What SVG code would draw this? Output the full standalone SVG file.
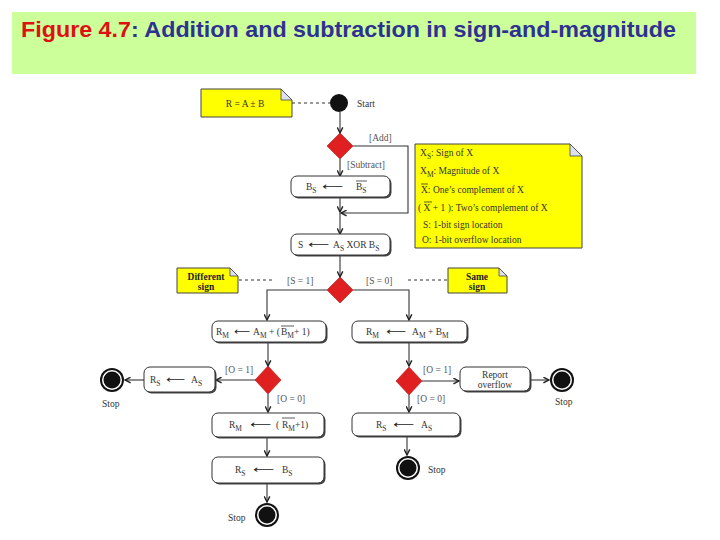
<svg xmlns="http://www.w3.org/2000/svg" width="720" height="540" viewBox="0 0 720 540">
<style>
.t{font-family:"Liberation Serif","Times New Roman",serif;font-size:9.5px;fill:#333}
.g{font-family:"Liberation Serif","Times New Roman",serif;font-size:9.5px;fill:#555}
.nb{font-family:"Liberation Serif","Times New Roman",serif;font-size:9.5px;fill:#222;font-weight:bold}
.ar{font-family:"DejaVu Sans",sans-serif;font-size:10px;fill:#222}
.sub{font-size:7.5px}
.box{fill:#fff;stroke:#333;stroke-width:1}
.sh{fill:#444}
.note{fill:#ffff00;stroke:#444;stroke-width:1}
.fold{fill:#dde0ee;stroke:#444;stroke-width:0.8}
.dia{fill:#e02020;stroke:#b01010;stroke-width:0.6}
.ln{fill:none;stroke:#333;stroke-width:1.1}
.ds{fill:none;stroke:#333;stroke-width:1;stroke-dasharray:3,3}
.ol{stroke:#333;stroke-width:0.8}
</style>
<defs>
<marker id="ah" viewBox="0 0 10 10" refX="9" refY="5" markerWidth="7" markerHeight="7" orient="auto" markerUnits="userSpaceOnUse">
<path d="M1,1 L9,5 L1,9" fill="none" stroke="#222" stroke-width="2"/>
</marker>
<g id="stopc"><circle r="12" fill="#111"/><circle r="10" fill="#fff"/><circle r="8.5" fill="#111"/></g>
</defs>
<rect width="720" height="540" fill="#fff"/>
<g id="title">
<rect x="12" y="12" width="684" height="62" fill="#ccff99"/>
<text x="21" y="37" font-family="'Liberation Sans',Arial,sans-serif" font-size="21.5" font-weight="bold" textLength="655" lengthAdjust="spacingAndGlyphs"><tspan fill="#dd1111">Figure 4.7</tspan><tspan fill="#2e3192">: Addition and subtraction in sign-and-magnitude</tspan></text>
</g>
<g id="connectors">
<line class="ds" x1="292" y1="103" x2="330" y2="103"/>
<line class="ln" x1="340" y1="112" x2="340" y2="133" marker-end="url(#ah)"/>
<polyline class="ln" points="353,146 408,146 408,213 341,213" marker-end="url(#ah)"/>
<line class="ln" x1="340" y1="159" x2="340" y2="176" marker-end="url(#ah)"/>
<line class="ln" x1="340" y1="197" x2="340" y2="212" marker-end="url(#ah)"/>
<line class="ln" x1="340" y1="213" x2="340" y2="234" marker-end="url(#ah)"/>
<line class="ln" x1="340" y1="255" x2="340" y2="277" marker-end="url(#ah)"/>
<polyline class="ln" points="327,290 267,290 267,320" marker-end="url(#ah)"/>
<polyline class="ln" points="353,290 409,290 409,320" marker-end="url(#ah)"/>
<line class="ds" x1="239" y1="280" x2="275" y2="280"/>
<line class="ds" x1="408" y1="280" x2="447" y2="280"/>
<line class="ln" x1="268" y1="342" x2="268" y2="366" marker-end="url(#ah)"/>
<line class="ln" x1="256" y1="380" x2="216" y2="380" marker-end="url(#ah)"/>
<line class="ln" x1="144" y1="380" x2="125" y2="380" marker-end="url(#ah)"/>
<line class="ln" x1="268" y1="394" x2="268" y2="412" marker-end="url(#ah)"/>
<line class="ln" x1="267" y1="437" x2="267" y2="456" marker-end="url(#ah)"/>
<line class="ln" x1="267" y1="483" x2="267" y2="502" marker-end="url(#ah)"/>
<line class="ln" x1="409" y1="342" x2="409" y2="366" marker-end="url(#ah)"/>
<line class="ln" x1="422" y1="381" x2="459" y2="381" marker-end="url(#ah)"/>
<line class="ln" x1="530" y1="380" x2="549" y2="380" marker-end="url(#ah)"/>
<line class="ln" x1="409" y1="395" x2="409" y2="412" marker-end="url(#ah)"/>
<line class="ln" x1="407" y1="436" x2="407" y2="455" marker-end="url(#ah)"/>
</g>
<g id="labels">
<text class="g" x="369" y="141">[Add]</text>
<text class="g" x="347" y="168">[Subtract]</text>
<text class="g" x="287" y="284">[S = 1]</text>
<text class="g" x="366" y="284">[S = 0]</text>
<text class="g" x="225" y="373">[O = 1]</text>
<text class="g" x="277" y="402">[O = 0]</text>
<text class="g" x="423" y="373">[O = 1]</text>
<text class="g" x="417" y="402">[O = 0]</text>
</g>
<g id="noteR">
<path class="note" d="M201,89 H281 L292,100 V117 H201 Z"/>
<path class="fold" d="M281,89 L292,100 H281 Z"/>
<text class="t" x="245" y="107" text-anchor="middle">R = A  ±  B</text>
</g>
<g id="start">
<circle cx="339" cy="103" r="9" fill="#111"/>
<text class="t" x="357" y="107">Start</text>
</g>
<g id="dec1"><polygon class="dia" points="340,133 353,146 340,159 327,146"/></g>
<g id="legend">
<path class="note" d="M415,144 H570 L582,156 V248 H415 Z"/>
<path class="fold" d="M570,144 L582,156 H570 Z"/>
<text class="t" x="420" y="156">X<tspan class="sub" dy="3">S</tspan><tspan dy="-3">: Sign of X</tspan></text>
<text class="t" x="420" y="174">X<tspan class="sub" dy="3">M</tspan><tspan dy="-3">: Magnitude of X</tspan></text>
<line class="ol" x1="421" y1="184" x2="428" y2="184"/>
<text class="t" x="421" y="193">X: One’s complement of X</text>
<line class="ol" x1="424" y1="202" x2="432" y2="202"/>
<text class="t" x="418" y="211">( X + 1 ): Two’s complement of X</text>
<text class="t" x="423" y="228">S: 1-bit sign location</text>
<text class="t" x="422" y="243">O: 1-bit overflow location</text>
</g>
<g id="box1">
<rect class="sh" x="292.5" y="177.5" width="99" height="21" rx="6"/>
<rect class="box" x="291" y="176" width="99" height="21" rx="6"/>
<text class="t" x="306" y="190">B<tspan class="sub" dy="3">S</tspan></text>
<text class="ar" x="322" y="190" textLength="21" lengthAdjust="spacingAndGlyphs">⟵</text>
<text class="t" x="356" y="190">B<tspan class="sub" dy="3">S</tspan></text>
<line class="ol" x1="356" y1="181" x2="367" y2="181"/>
</g>
<g id="box2">
<rect class="sh" x="292.5" y="235.5" width="99" height="21" rx="6"/>
<rect class="box" x="291" y="234" width="99" height="21" rx="6"/>
<text class="t" x="298" y="248">S</text>
<text class="ar" x="308" y="248" textLength="21" lengthAdjust="spacingAndGlyphs">⟵</text>
<text class="t" x="333" y="248">A<tspan class="sub" dy="3">S</tspan><tspan dy="-3"> XOR B</tspan><tspan class="sub" dy="3">S</tspan></text>
</g>
<g id="dec2"><polygon class="dia" points="340,277 353,290 340,303 327,290"/></g>
<g id="noteDiff">
<path class="note" d="M177,268 H230 L238,276 V293 H177 Z"/>
<path class="fold" d="M230,268 L238,276 H230 Z"/>
<text class="nb" x="206" y="280" text-anchor="middle">Different</text>
<text class="nb" x="206" y="290" text-anchor="middle">sign</text>
</g>
<g id="noteSame">
<path class="note" d="M448,268 H499 L507,276 V293 H448 Z"/>
<path class="fold" d="M499,268 L507,276 H499 Z"/>
<text class="nb" x="477" y="280" text-anchor="middle">Same</text>
<text class="nb" x="477" y="290" text-anchor="middle">sign</text>
</g>
<g id="boxSub">
<rect class="sh" x="213.5" y="322.5" width="114" height="21" rx="6"/>
<rect class="box" x="212" y="321" width="114" height="21" rx="6"/>
<text class="t" x="216" y="335">R<tspan class="sub" dy="3">M</tspan></text>
<text class="ar" x="234" y="335" textLength="16" lengthAdjust="spacingAndGlyphs">⟵</text>
<text class="t" x="253" y="335">A<tspan class="sub" dy="3">M</tspan><tspan dy="-3"> + (</tspan><tspan x="281">B</tspan><tspan class="sub" dy="3">M</tspan><tspan dy="-3">+ 1)</tspan></text>
<line class="ol" x1="281" y1="326" x2="294" y2="326"/>
</g>
<g id="boxAdd">
<rect class="sh" x="353.5" y="322.5" width="115" height="21" rx="6"/>
<rect class="box" x="352" y="321" width="115" height="21" rx="6"/>
<text class="t" x="366" y="335">R<tspan class="sub" dy="3">M</tspan></text>
<text class="ar" x="386" y="335" textLength="20" lengthAdjust="spacingAndGlyphs">⟵</text>
<text class="t" x="412" y="335">A<tspan class="sub" dy="3">M</tspan><tspan dy="-3"> + B</tspan><tspan class="sub" dy="3">M</tspan></text>
</g>
<g id="dec3"><polygon class="dia" points="268,366 281,380 268,394 255,380"/></g>
<g id="boxRsAsL">
<rect class="sh" x="145.5" y="368.5" width="71" height="25" rx="6"/>
<rect class="box" x="144" y="367" width="71" height="25" rx="6"/>
<text class="t" x="150" y="383">R<tspan class="sub" dy="3">S</tspan></text>
<text class="ar" x="166" y="383" textLength="19" lengthAdjust="spacingAndGlyphs">⟵</text>
<text class="t" x="191" y="383">A<tspan class="sub" dy="3">S</tspan></text>
</g>
<g id="stopL">
<use href="#stopc" x="112" y="380"/>
<text class="t" x="102" y="407">Stop</text>
</g>
<g id="boxNeg">
<rect class="sh" x="213.5" y="414.5" width="112" height="24" rx="6"/>
<rect class="box" x="212" y="413" width="112" height="24" rx="6"/>
<text class="t" x="229" y="428">R<tspan class="sub" dy="3">M</tspan></text>
<text class="ar" x="250" y="428" textLength="21" lengthAdjust="spacingAndGlyphs">⟵</text>
<text class="t" x="276" y="428">(<tspan x="282">R</tspan><tspan class="sub" dy="3">M</tspan><tspan dy="-3">+1)</tspan></text>
<line class="ol" x1="282" y1="418" x2="295" y2="418"/>
</g>
<g id="boxRsBs">
<rect class="sh" x="213.5" y="458.5" width="112" height="26" rx="6"/>
<rect class="box" x="212" y="457" width="112" height="26" rx="6"/>
<text class="t" x="235" y="473">R<tspan class="sub" dy="3">S</tspan></text>
<text class="ar" x="253" y="473" textLength="21" lengthAdjust="spacingAndGlyphs">⟵</text>
<text class="t" x="282" y="473">B<tspan class="sub" dy="3">S</tspan></text>
</g>
<g id="stopB">
<use href="#stopc" x="267" y="515"/>
<text class="t" x="228" y="521">Stop</text>
</g>
<g id="dec4"><polygon class="dia" points="409,367 422,381 409,395 396,381"/></g>
<g id="boxReport">
<rect class="sh" x="461.5" y="368.5" width="70" height="24" rx="6"/>
<rect class="box" x="460" y="367" width="70" height="24" rx="6"/>
<text class="t" x="495" y="378" text-anchor="middle">Report</text>
<text class="t" x="495" y="388" text-anchor="middle">overflow</text>
</g>
<g id="stopR">
<use href="#stopc" x="562" y="380"/>
<text class="t" x="555" y="405">Stop</text>
</g>
<g id="boxRsAsR">
<rect class="sh" x="353.5" y="414.5" width="108" height="23" rx="6"/>
<rect class="box" x="352" y="413" width="108" height="23" rx="6"/>
<text class="t" x="376" y="428">R<tspan class="sub" dy="3">S</tspan></text>
<text class="ar" x="393" y="428" textLength="21" lengthAdjust="spacingAndGlyphs">⟵</text>
<text class="t" x="421" y="428">A<tspan class="sub" dy="3">S</tspan></text>
</g>
<g id="stopBR">
<use href="#stopc" x="408" y="468"/>
<text class="t" x="428" y="473">Stop</text>
</g>
</svg>
